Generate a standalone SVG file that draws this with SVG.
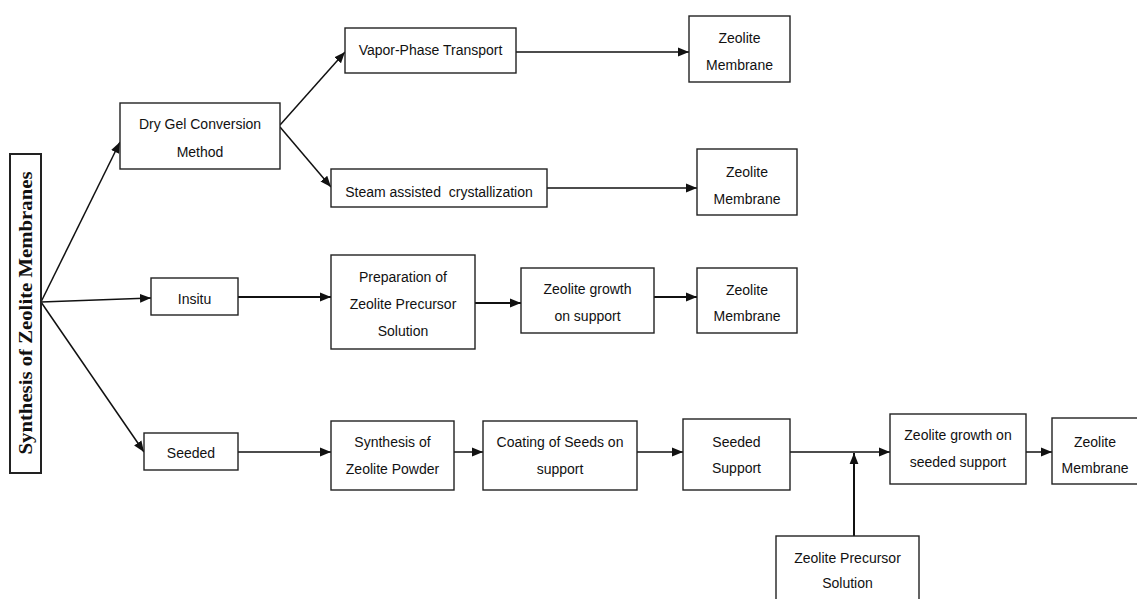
<svg xmlns="http://www.w3.org/2000/svg" width="1137" height="599" viewBox="0 0 1137 599">
<style>
.box{fill:#fff;stroke:#222;stroke-width:1.4}
.t{font-family:"Liberation Sans",Arial,sans-serif;font-size:14px;fill:#111;text-anchor:middle}
.title{font-family:"Liberation Serif","Times New Roman",serif;font-size:18px;font-weight:bold;fill:#111;text-anchor:middle}
.c{stroke:#111;stroke-width:1.5;fill:none;marker-end:url(#ah)}
</style>
<defs>
<marker id="ah" markerUnits="userSpaceOnUse" markerWidth="11" markerHeight="11" viewBox="0 0 10 10" refX="10" refY="5" orient="auto">
<path d="M0,1 L10,5 L0,9 Z" fill="#111"/>
</marker>
</defs>
<rect width="1137" height="599" fill="#fff"/>
<g id="connectors">
<line class="c" x1="41" y1="302" x2="120" y2="142"/>
<line class="c" x1="41" y1="302" x2="151" y2="298"/>
<line class="c" x1="41" y1="302" x2="144" y2="452"/>
<line class="c" x1="280" y1="125" x2="345" y2="52"/>
<line class="c" x1="280" y1="127" x2="331" y2="187"/>
<line class="c" x1="516" y1="52" x2="689" y2="52"/>
<line class="c" x1="547" y1="188" x2="697" y2="188"/>
<line class="c" x1="238" y1="297" x2="331" y2="297" style="stroke-width:2"/>
<line class="c" x1="475" y1="303" x2="521" y2="303" style="stroke-width:2"/>
<line class="c" x1="654" y1="297" x2="697" y2="297" style="stroke-width:2"/>
<line class="c" x1="238" y1="452" x2="331" y2="452"/>
<line class="c" x1="454" y1="452" x2="483" y2="452"/>
<line class="c" x1="637" y1="452" x2="683" y2="452"/>
<line class="c" x1="790" y1="452" x2="890" y2="452"/>
<line class="c" x1="854" y1="536" x2="854" y2="453" style="stroke-width:2"/>
<line class="c" x1="1026" y1="452" x2="1052" y2="452"/>
</g>
<g id="title">
<rect class="box" x="10" y="154" width="31" height="319" style="stroke-width:2"/>
<text class="title" transform="translate(32,313) rotate(-90)" textLength="283" lengthAdjust="spacingAndGlyphs">Synthesis of Zeolite Membranes</text>
</g>
<g id="drygel">
<rect class="box" x="120" y="103" width="160" height="66"/>
<text class="t" x="200" y="129">Dry Gel Conversion</text>
<text class="t" x="200" y="157">Method</text>
</g>
<g id="vapor">
<rect class="box" x="345" y="28" width="171" height="45"/>
<text class="t" x="430.5" y="55">Vapor-Phase Transport</text>
</g>
<g id="steam">
<rect class="box" x="331" y="169" width="216" height="38"/>
<text class="t" x="439" y="197">Steam assisted&#160; crystallization</text>
</g>
<g id="zm1">
<rect class="box" x="689" y="16" width="101" height="66"/>
<text class="t" x="739.5" y="43">Zeolite</text>
<text class="t" x="739.5" y="70">Membrane</text>
</g>
<g id="zm2">
<rect class="box" x="697" y="149" width="100" height="66"/>
<text class="t" x="747" y="177">Zeolite</text>
<text class="t" x="747" y="204">Membrane</text>
</g>
<g id="insitu">
<rect class="box" x="151" y="278" width="87" height="37"/>
<text class="t" x="194.5" y="304">Insitu</text>
</g>
<g id="prep">
<rect class="box" x="331" y="255" width="144" height="94"/>
<text class="t" x="403" y="282">Preparation of</text>
<text class="t" x="403" y="309">Zeolite Precursor</text>
<text class="t" x="403" y="336">Solution</text>
</g>
<g id="growth">
<rect class="box" x="521" y="268" width="133" height="65"/>
<text class="t" x="587.5" y="294">Zeolite growth</text>
<text class="t" x="587.5" y="321">on support</text>
</g>
<g id="zm3">
<rect class="box" x="697" y="268" width="100" height="65"/>
<text class="t" x="747" y="295">Zeolite</text>
<text class="t" x="747" y="321">Membrane</text>
</g>
<g id="seeded">
<rect class="box" x="144" y="433" width="94" height="37"/>
<text class="t" x="191" y="458">Seeded</text>
</g>
<g id="powder">
<rect class="box" x="331" y="421" width="123" height="69"/>
<text class="t" x="392.5" y="447">Synthesis of</text>
<text class="t" x="392.5" y="474">Zeolite Powder</text>
</g>
<g id="coating">
<rect class="box" x="483" y="421" width="154" height="69"/>
<text class="t" x="560" y="447">Coating of Seeds on</text>
<text class="t" x="560" y="474">support</text>
</g>
<g id="seededsupport">
<rect class="box" x="683" y="419" width="107" height="71"/>
<text class="t" x="736.5" y="447">Seeded</text>
<text class="t" x="736.5" y="473">Support</text>
</g>
<g id="growthseeded">
<rect class="box" x="890" y="414" width="136" height="70"/>
<text class="t" x="958" y="440">Zeolite growth on</text>
<text class="t" x="958" y="467">seeded support</text>
</g>
<g id="zm4">
<rect class="box" x="1052" y="418" width="90" height="66"/>
<text class="t" x="1095" y="447">Zeolite</text>
<text class="t" x="1095" y="473">Membrane</text>
</g>
<g id="precursor">
<rect class="box" x="776" y="536" width="143" height="74"/>
<text class="t" x="847.5" y="563">Zeolite Precursor</text>
<text class="t" x="847.5" y="588">Solution</text>
</g>
</svg>
